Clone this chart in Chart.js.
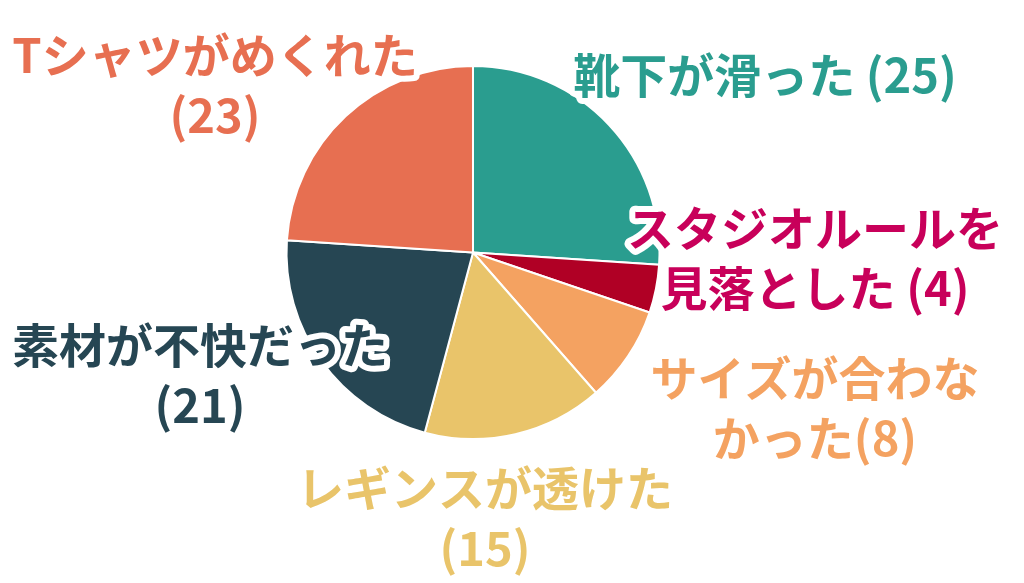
<!DOCTYPE html>
<html><head><meta charset="utf-8">
<script src="https://cdn.jsdelivr.net/npm/chart.js@4/dist/chart.umd.min.js"></script>
<style>html,body{margin:0;padding:0;background:#fff}#c{display:block}</style>
</head><body>
<div style="width:1024px;height:583px"><canvas id="c"></canvas></div>
<script>
const categories = ["靴下が滑った", "スタジオルールを見落とした", "サイズが合わなかった", "レギンスが透けた", "素材が不快だった", "Tシャツがめくれた"];
const values = [25, 4, 8, 15, 21, 23];
const sliceColors = ["#2a9d8f", "#b00025", "#f4a261", "#e9c46a", "#264653", "#e76f51"];
const labelColors = ["#2a9d8f", "#c8005a", "#f4a261", "#e9c46a", "#264653", "#e76f51"];
const labelLines = [
  ["靴下が滑った (25)"],
  ["スタジオルールを", "見落とした (4)"],
  ["サイズが合わな", "かった(8)"],
  ["レギンスが透けた", "(15)"],
  ["素材が不快だった", "(21)"],
  ["Tシャツがめくれた", "(23)"]
];
const labelPos = [[765,75],[815,228],[815,378],[485,488],[200,345],[215,55]];

const labelPlugin = {
  id: 'lbl',
  afterDatasetsDraw(chart) {
    const ctx = chart.ctx;
    ctx.save();
    ctx.font = 'bold 47px "Noto Sans CJK JP", sans-serif';
    ctx.textAlign = 'center';
    ctx.textBaseline = 'middle';
    ctx.lineJoin = 'round';
    labelLines.forEach((lines, i) => {
      lines.forEach((t, j) => {
        const x = labelPos[i][0], y = labelPos[i][1] + j * 60;
        ctx.strokeStyle = '#fff'; ctx.lineWidth = 12;
        ctx.strokeText(t, x, y);
        ctx.fillStyle = labelColors[i];
        ctx.fillText(t, x, y);
      });
    });
    ctx.restore();
  }
};

new Chart(document.getElementById('c'), {
  type: 'pie',
  data: { labels: categories, datasets: [{ data: values, backgroundColor: sliceColors, borderColor: '#fff', borderWidth: 2 }] },
  options: {
    responsive: true, maintainAspectRatio: false, animation: false,
    layout: { padding: { top: 65, bottom: 143, left: 285, right: 363 } },
    plugins: { legend: { display: false }, tooltip: { enabled: false } }
  },
  plugins: [labelPlugin]
});
</script>
</body></html>
